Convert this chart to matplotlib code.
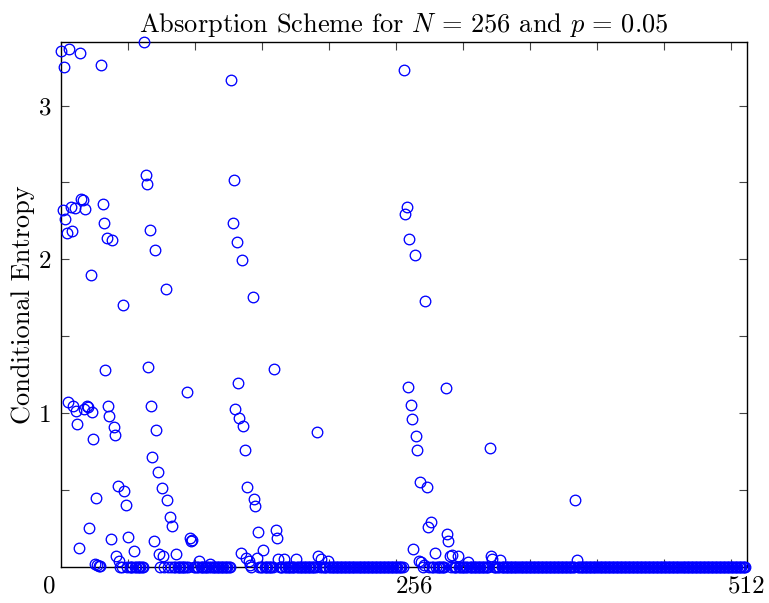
"""Conditional entropy per index for the absorption scheme (N = 256, p = 0.05)."""
import numpy as np
import matplotlib; matplotlib.use('Agg')
import matplotlib.pyplot as plt

plt.rcParams.update({"font.family": "serif", "font.serif": ["cmr10", "DejaVu Serif"],
                     "mathtext.fontset": "cm", "axes.formatter.use_mathtext": True,
                     "font.size": 19})

N_TOTAL = 512

# indices with non-zero conditional entropy (all other indices are 0)
nz_idx = [0, 1, 2, 3, 4, 5, 6, 7, 8, 9, 10, 11, 12, 13, 14, 15, 16, 17, 18, 19,
          20, 21, 22, 23, 24, 25, 26, 27, 28, 29, 30, 31, 32, 33, 34, 35, 36, 37, 38, 39,
          40, 41, 42, 43, 46, 47, 48, 50, 54,
          62, 63, 64, 65, 66, 67, 68, 69, 70, 71, 72, 73, 75, 76, 78, 79, 81, 83, 86,
          94, 96, 97, 98, 103, 111,
          127, 128, 129, 130, 131, 132, 133, 134, 135, 136, 137, 138, 139, 140, 141,
          143, 144, 145, 146, 147, 151, 159, 160, 161, 162, 166, 175,
          191, 192, 194, 199,
          256, 257, 258, 259, 260, 261, 262, 263, 264, 265, 266, 267, 268, 269, 271,
          272, 273, 274, 276, 279, 287, 288, 289, 290, 292, 296, 304,
          320, 321, 322, 328, 384, 385]
nz_val = [3.357, 2.321, 3.253, 2.262, 2.171, 1.074, 3.366, 2.342, 2.182, 1.047,
          2.336, 1.013, 0.926, 0.122, 3.344, 2.394, 2.386, 1.024, 2.325, 1.046,
          1.037, 0.252, 1.900, 1.007, 0.829, 0.016, 0.449, 0.009, 0.004, 0.002,
          3.266, 2.358, 2.234, 1.278, 2.141, 1.046, 0.980, 0.182, 2.124, 0.907,
          0.855, 0.068, 0.527, 0.037, 1.705, 0.491, 0.401, 0.195, 0.102,
          3.412, 2.548, 2.491, 1.299, 2.191, 1.046, 0.714, 0.169, 2.059, 0.887,
          0.618, 0.083, 0.512, 0.068, 1.805, 0.432, 0.325, 0.263, 0.081,
          1.139, 0.187, 0.165, 0.172, 0.039, 0.018,
          3.169, 2.236, 2.516, 1.024, 2.111, 1.195, 0.969, 0.089, 1.995, 0.915,
          0.761, 0.059, 0.517, 0.039, 0.009,
          1.757, 0.440, 0.393, 0.055, 0.224, 0.109, 1.288, 0.241, 0.185, 0.052, 0.052, 0.052,
          0.878, 0.070, 0.048, 0.039,
          3.232, 2.293, 2.338, 1.171, 2.134, 1.052, 0.959, 0.115, 2.026, 0.852,
          0.761, 0.039, 0.551, 0.033, 0.009,
          1.729, 0.519, 0.256, 0.293, 0.091, 1.165, 0.213, 0.165, 0.072, 0.076, 0.070, 0.033,
          0.772, 0.072, 0.052, 0.044, 0.434, 0.044]

x_tick_labels = ['0', '256', '512']
x_label_pos = [-9, 263.5, 511.5]

idx = np.arange(N_TOTAL)
H = np.zeros(N_TOTAL)
H[nz_idx] = nz_val

fig = plt.figure(figsize=(7.69, 6.03), dpi=100)
ax = fig.add_axes([0.0797, 0.0602, 0.8914, 0.8701])

ax.plot(idx, H, 'o', mfc='none', mec='blue', ms=7.6, mew=0.95, clip_on=False, zorder=3)

ax.set_xlim(0, 512)
ax.set_ylim(0, 3.414)

ax.set_xticks(np.arange(50, 501, 50))
ax.set_xticklabels([])
ax.set_yticks([0.5, 1, 1.5, 2, 2.5, 3])
ax.set_yticklabels(['', '1', '', '2', '', '3'])
ax.tick_params(direction='in', top=True, right=True, length=6, width=0.8,
               color='#444444', labelsize=18, pad=7)
for s in ax.spines.values():
    s.set_linewidth(1.0)

for xp, lab in zip(x_label_pos, x_tick_labels):
    ax.text(xp, -0.016, lab, transform=ax.get_xaxis_transform(),
            ha='center', va='top', fontsize=18)

ax.set_ylabel('Conditional Entropy', fontsize=19, labelpad=3)
ax.set_title(r'Absorption Scheme for $N\,=\,256$ and $p\,=\,0.05$', fontsize=19, pad=7)

fig.savefig('out.png', dpi=100, facecolor='white')
